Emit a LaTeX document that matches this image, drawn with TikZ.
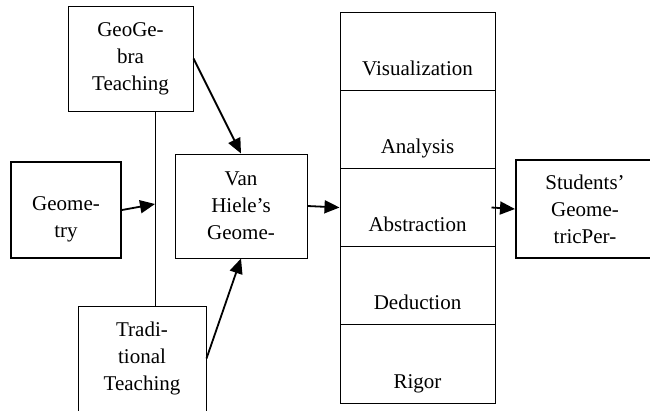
\documentclass[tikz,border=0pt]{standalone}
\usepackage{fontspec}
\setmainfont{Liberation Serif}
\usetikzlibrary{arrows.meta, positioning, calc}

\tikzset{
  box/.style={draw, line width=1pt, align=center, inner sep=0pt,
    font=\fontsize{21}{27}\selectfont},
  thickbox/.style={box, line width=2pt},
  level/.style={draw, line width=1pt, inner sep=0pt, minimum width=155pt,
    text height=63.2pt, text depth=15pt, font=\fontsize{21}{27}\selectfont},
  flow/.style={line width=1.8pt, -{Triangle[length=15pt,width=13pt]}}
}

\begin{document}
\begin{tikzpicture}[x=1pt, y=-1pt]
  \clip (0,0) rectangle (650,410);

  % inputs on the left
  \node[box, minimum width=125pt, minimum height=105pt] (geogebra) at (130.5, 58.5) {GeoGe-\\bra\\Teaching};
  \node[box, minimum width=128pt, minimum height=105pt] (trad) at (142, 358.5) {Tradi-\\tional\\Teaching};
  \node[thickbox, minimum width=110pt, minimum height=96pt, text height=59pt, text depth=5pt] (geometry) at (66, 210) {Geome-\\try};
  \coordinate (join) at (155, 204);
  \draw[line width=1pt] (geogebra.south -| join) -- (trad.north -| join);

  % middle box
  \node[box, minimum width=132pt, minimum height=104pt] (vanhiele) at (241, 206) {Van\\Hiele's\\Geome-};

  % the five levels
  \node[level] (lev1) at (417.5, 51.1) {Visualization};
  \node[level] (lev2) at (417.5, 129.3) {Analysis};
  \node[level] (lev3) at (417.5, 207.5) {Abstraction};
  \node[level] (lev4) at (417.5, 285.7) {Deduction};
  \node[level] (lev5) at (417.5, 363.9) {Rigor};

  % output
  \node[thickbox, minimum width=138pt, minimum height=98pt] (students) at (585, 209) {Students'\\Geome-\\tricPer-};

  % arrows
  \draw[flow] (geometry.east) -- (join);
  \draw[flow] (geogebra.east) -- (vanhiele.north);
  \draw[flow] (trad.east) -- (vanhiele.south);
  \draw[flow] (vanhiele.east) -- (lev3.west);
  \draw[flow] ([xshift=-4pt]lev3.east) -- (students.west);
\end{tikzpicture}
\end{document}
